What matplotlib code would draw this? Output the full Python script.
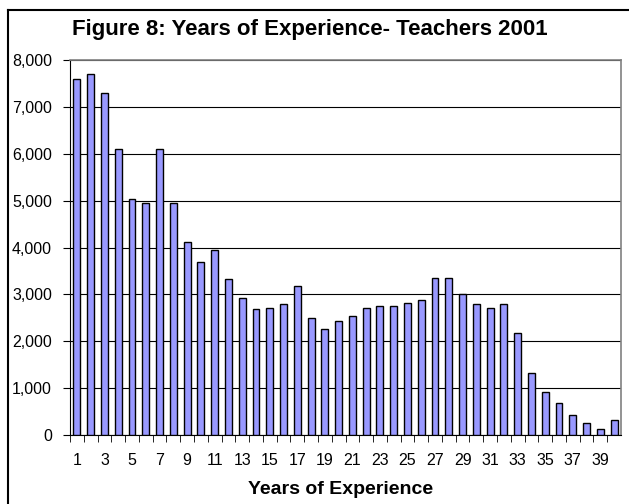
import matplotlib.pyplot as plt
from matplotlib.lines import Line2D

years = list(range(1, 41))
teachers = [7600, 7700, 7300, 6100, 5030, 4950, 6100, 4950, 4120, 3700,
            3950, 3330, 2930, 2680, 2715, 2790, 3185, 2500, 2255, 2430,
            2540, 2715, 2750, 2750, 2820, 2890, 3355, 3355, 3010, 2790,
            2715, 2790, 2180, 1320, 920, 675, 425, 250, 135, 320]
tick_labels = [str(y) if y % 2 == 1 else '' for y in years]

plt.rcParams['font.family'] = ['Liberation Sans', 'DejaVu Sans']

fig = plt.figure(figsize=(6.29, 5.04), dpi=100)
ax = fig.add_axes([70 / 629, 1 - 435 / 504, 551 / 629, 375 / 504])

ax.bar(years, teachers, width=0.5, color='#9999ff', edgecolor='black', linewidth=1, zorder=3)

ax.set_xlim(0.5, 40.5)
ax.set_ylim(0, 8000)
ax.set_yticks(range(0, 8001, 1000))
ax.set_yticklabels([f'{v:,}' for v in range(0, 8001, 1000)], fontsize=11.5)
ax.yaxis.grid(True, color='black', linewidth=0.8, zorder=0)

ax.set_xticks(years)
ax.set_xticklabels(tick_labels, fontsize=11.5)
ax.tick_params(axis='x', length=0, pad=13)
ax.set_xticks([y + 0.5 for y in range(0, 40)], minor=True)
ax.tick_params(axis='x', which='minor', length=5, direction='out', color='black')
ax.tick_params(axis='y', length=5, direction='out', color='black', pad=8)

ax.spines['left'].set_color('black')
ax.spines['bottom'].set_color('black')
ax.spines['top'].set_color('#808080')
ax.spines['right'].set_color('#808080')
ax.spines['top'].set_linewidth(1.2)
ax.spines['right'].set_linewidth(1.2)

fig.text(341 / 629, 1 - 489 / 504, 'Years of Experience', ha='center', va='center',
         fontsize=14, fontweight='bold')
fig.text(310 / 629, 1 - 29 / 504, 'Figure 8: Years of Experience- Teachers 2001',
         ha='center', va='center', fontsize=16, fontweight='bold')

# outer chart border (left and top only visible)
fig.add_artist(Line2D([8 / 629, 8 / 629], [0, 1 - 10 / 504], transform=fig.transFigure,
                      color='black', linewidth=1.5))
fig.add_artist(Line2D([8 / 629, 1], [1 - 10 / 504, 1 - 10 / 504], transform=fig.transFigure,
                      color='black', linewidth=1.5))

fig.savefig('out.png', dpi=100)
